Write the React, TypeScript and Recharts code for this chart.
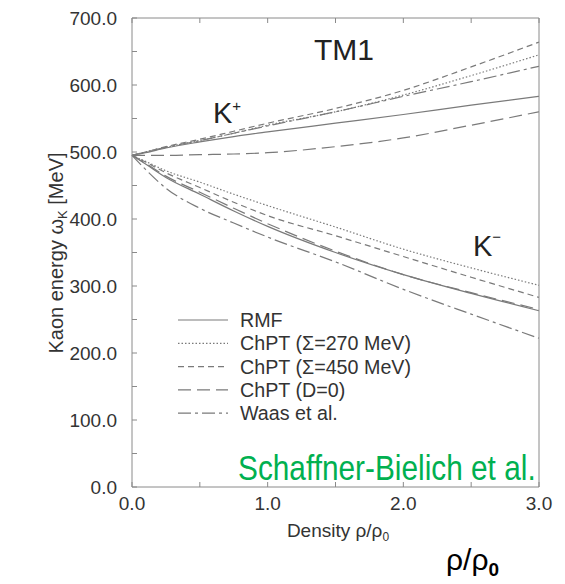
import React from 'react';
import { LineChart, Line, XAxis, YAxis } from 'recharts';

// ---- data ----
const density = [0, 0.1, 0.25, 0.5, 0.75, 1, 1.5, 2, 2.5, 3];
const kPlusRMF = [495, 499, 506, 515, 523, 530, 543, 556, 570, 583];
const kPlusChPT270 = [495, 500, 507, 517, 528, 540, 560, 585, 614, 645];
const kPlusChPT450 = [495, 500, 508, 519, 531, 543, 565, 592, 627, 664];
const kPlusChPTD0 = [495, 495, 495, 496, 497, 499, 508, 521, 540, 560];
const kPlusWaas = [495, 500, 507, 517, 528, 539, 560, 583, 605, 628];
const kMinusRMF = [495, 482, 462, 437, 412, 389, 350, 317, 289, 263];
const kMinusChPT270 = [495, 486, 472, 455, 437, 420, 388, 355, 327, 301];
const kMinusChPT450 = [495, 485, 469, 447, 425, 405, 375, 344, 313, 283];
const kMinusChPTD0 = [495, 483, 464, 440, 416, 393, 352, 317, 290, 265];
const kMinusWaas = [495, 474, 446, 416, 394, 373, 336, 295, 258, 222];

const legendNames = ['RMF', 'ChPT (\u03A3=270 MeV)', 'ChPT (\u03A3=450 MeV)', 'ChPT (D=0)', 'Waas et al.'];
const xTicks = [0, 0.5, 1, 1.5, 2, 2.5, 3];
const yTicks = [0, 50, 100, 150, 200, 250, 300, 350, 400, 450, 500, 550, 600, 650, 700];

// ---- table ----
const seriesData: Record<string, number[]> = {
  kpRMF: kPlusRMF, kp270: kPlusChPT270, kp450: kPlusChPT450, kpD0: kPlusChPTD0, kpWaas: kPlusWaas,
  kmRMF: kMinusRMF, km270: kMinusChPT270, km450: kMinusChPT450, kmD0: kMinusChPTD0, kmWaas: kMinusWaas,
};
const rows = density.map((d, i) => {
  const r: Record<string, number> = { x: d };
  Object.keys(seriesData).forEach((k) => { r[k] = seriesData[k][i]; });
  return r;
});

// ---- styles ----
const dashes = ['', '1.5 2', '6 4', '13 6', '13 4 3 4'];
const seriesStyle: { key: string; dash: string }[] = [
  { key: 'kpRMF', dash: dashes[0] }, { key: 'kp270', dash: dashes[1] }, { key: 'kp450', dash: dashes[2] },
  { key: 'kpD0', dash: dashes[3] }, { key: 'kpWaas', dash: dashes[4] },
  { key: 'kmRMF', dash: dashes[0] }, { key: 'km270', dash: dashes[1] }, { key: 'km450', dash: dashes[2] },
  { key: 'kmD0', dash: dashes[3] }, { key: 'kmWaas', dash: dashes[4] },
];
const FONT = '"Liberation Sans", Arial, sans-serif';
const LINE = '#7a7a7a';
const AXIS = '#8a8a8a';
const tickStyle = { fill: '#333', fontSize: 19, fontFamily: FONT };

export default function App() {
  return (
    <div style={{ position: 'absolute', left: 0, top: 0, width: 565, height: 584, background: '#fff', fontFamily: FONT }}>
      <LineChart width={565} height={584} data={rows} margin={{ top: 17, right: 25, bottom: 67, left: 32 }}>
        <XAxis dataKey="x" type="number" domain={[0, 3]} ticks={xTicks} interval={0}
          tickFormatter={(v: number) => (Number.isInteger(v) ? v.toFixed(1) : '')}
          tickSize={-5} tickMargin={15} height={30} stroke={AXIS} tick={tickStyle} />
        <XAxis xAxisId="top" orientation="top" dataKey="x" type="number" domain={[0, 3]} ticks={xTicks} interval={0}
          tickFormatter={() => ''} tickSize={-5} height={1} stroke={AXIS} />
        <YAxis type="number" domain={[0, 700]} ticks={yTicks} interval={0}
          tickFormatter={(v: number) => (v % 100 === 0 ? v.toFixed(1) : '')}
          tickSize={-5} tickMargin={20} width={100} stroke={AXIS} tick={tickStyle} />
        <YAxis yAxisId="right" orientation="right" type="number" domain={[0, 700]} ticks={yTicks} interval={0}
          tickFormatter={() => ''} tickSize={-5} width={1} stroke={AXIS} />
        {seriesStyle.map((s) => (
          <Line key={s.key} dataKey={s.key} type="monotone" stroke={LINE} strokeWidth={1.2}
            strokeDasharray={s.dash || undefined} dot={false} activeDot={false} isAnimationActive={false} />
        ))}
      </LineChart>
      <svg width={565} height={584} style={{ position: 'absolute', left: 0, top: 0, pointerEvents: 'none' }}>
        <g fontFamily={FONT}>
          <text x={344} y={60} fontSize={30} textAnchor="middle" fill="#222">TM1</text>
          <text x={213} y={123} fontSize={29} fill="#222">K<tspan fontSize={15} dy={-12}>+</tspan></text>
          <text x={473} y={256} fontSize={29} fill="#222">K<tspan fontSize={15} dy={-14}>{'\u2212'}</tspan></text>
          <text x={63} y={253} fontSize={20} fill="#333" textAnchor="middle" transform="rotate(-90 63 253)">
            Kaon energy {'\u03C9'}<tspan fontSize={13} dy={4}>K</tspan><tspan dy={-4}> [MeV]</tspan>
          </text>
          <text x={338} y={537} fontSize={19} fill="#333" textAnchor="middle">
            Density {'\u03C1/\u03C1'}<tspan fontSize={12} dy={4}>0</tspan>
          </text>
          {legendNames.map((n, i) => {
            const by = 327 + i * 23.3;
            return (
              <g key={n}>
                <line x1={178} x2={228} y1={by - 7} y2={by - 7} stroke={LINE} strokeWidth={1.2}
                  strokeDasharray={dashes[i] || undefined} />
                <text x={240} y={by} fontSize={19.7} fill="#333">{n}</text>
              </g>
            );
          })}
          <g transform="translate(238 480) scale(0.82 1)">
            <text x={0} y={0} fontSize={35} fill="#00B050" textLength={363} lengthAdjust="spacingAndGlyphs">
              Schaffner-Bielich et al.
            </text>
          </g>
          <text x={446} y={570} fontSize={30} fill="#000">
            {'\u03C1/\u03C1'}<tspan fontSize={19} fontWeight="bold" dy={6}>0</tspan>
          </text>
        </g>
      </svg>
    </div>
  );
}
